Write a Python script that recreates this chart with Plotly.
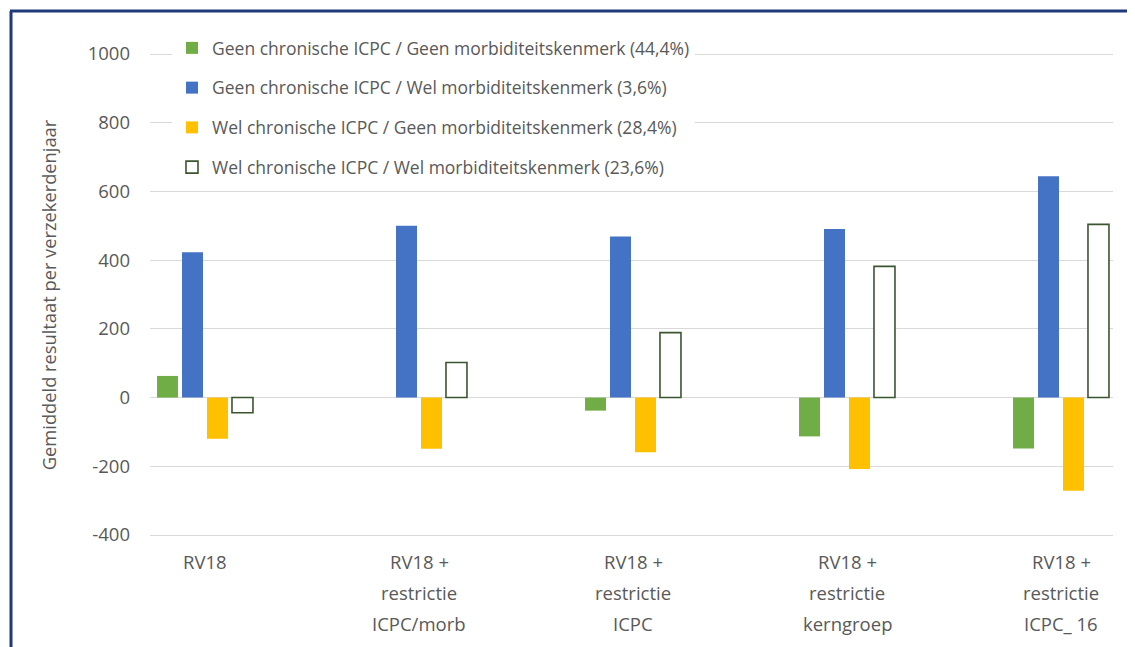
import plotly.graph_objects as go

categories = [
    "RV18",
    "RV18 +<br>restrictie<br>ICPC/morb",
    "RV18 +<br>restrictie<br>ICPC",
    "RV18 +<br>restrictie<br>kerngroep",
    "RV18 +<br>restrictie<br>ICPC_ 16",
]
series_names = [
    "Geen chronische ICPC / Geen morbiditeitskenmerk (44,4%)",
    "Geen chronische ICPC / Wel morbiditeitskenmerk (3,6%)",
    "Wel chronische ICPC / Geen morbiditeitskenmerk (28,4%)",
    "Wel chronische ICPC / Wel morbiditeitskenmerk (23,6%)",
]
geen_geen = [63, 0, -38, -113, -148]
geen_wel = [423, 500, 469, 491, 644]
wel_geen = [-120, -149, -159, -208, -271]
wel_wel = [-44, 102, 189, 382, 504]
y_ticks = [-400, -200, 0, 200, 400, 600, 800, 1000]

series_values = [geen_geen, geen_wel, wel_geen, wel_wel]
fills = ["#70AD47", "#4472C4", "#FFC000", "#FFFFFF"]
outlines = ["#70AD47", "#4472C4", "#FFC000", "#3B5530"]
outline_w = [0, 0, 0, 1.6]

OFF = 8  # page body margin
W, H = 1135 - OFF, 647 - OFF


def px(v):
    return v - OFF


L, R = px(150), px(1113)
T, B = px(51), px(539)

fig = go.Figure()
for i, (name, vals) in enumerate(zip(series_names, series_values)):
    fig.add_trace(go.Bar(
        x=list(range(len(categories))), y=vals, name=name,
        marker=dict(color=fills[i], line=dict(color=outlines[i], width=outline_w[i])),
        legendgroup=f"g{i}",
    ))

ky = (535 - 54) / 1400.0
y_top = 1000 + (px(54) - T) / ky
y_bot = -400 - (B - px(535)) / ky
kx = (1061 - 205) / 4.0
x0 = -(px(205) - L) / kx
x1 = 4 + (R - px(1061)) / kx

grid = "#D9D9D9"
txt = "#595959"
font = "Open Sans"
frame = "#1F3A78"

# category labels: one text line per row, rows 31 px apart (as in the reference)
annotations = []
for ci, lab in enumerate(categories):
    for j, line in enumerate(lab.split("<br>")):
        ypix = px(561 + 31 * j)
        annotations.append(dict(
            x=ci, xref="x", y=(B - ypix) / (B - T), yref="paper",
            text=line, showarrow=False, xanchor="center", yanchor="middle",
            font=dict(family=font, size=18.5, color=txt),
        ))

fig.update_layout(
    width=W, height=H,
    margin=dict(l=L, r=W - R, t=T, b=H - B, autoexpand=False),
    paper_bgcolor="white", plot_bgcolor="white",
    barmode="group", bargap=0.533, bargroupgap=0.16,
    font=dict(family=font, color=txt, size=17),
    showlegend=True,
    legend=dict(
        x=(px(172) - L) / (R - L), y=(B - px(30)) / (B - T), xanchor="left", yanchor="top",
        bgcolor="white", borderwidth=0, tracegroupgap=14,
        font=dict(family=font, size=17.5, color=txt), itemwidth=30,
    ),
    xaxis=dict(
        range=[x0, x1], tickmode="array",
        tickvals=list(range(len(categories))), ticktext=categories,
        showticklabels=False,
        showgrid=False, zeroline=False, showline=False, ticks="",
    ),
    yaxis=dict(
        range=[y_bot, y_top], tickmode="array", tickvals=y_ticks,
        ticktext=[str(v) for v in y_ticks],
        showgrid=True, gridcolor=grid, gridwidth=1,
        zeroline=True, zerolinecolor=grid, zerolinewidth=1,
        showline=False, ticks="", ticklabelstandoff=19,
        tickfont=dict(family=font, size=18.5, color=txt),
        title=dict(text="Gemiddeld resultaat per verzekerdenjaar",
                   font=dict(family=font, size=18.3, color=txt), standoff=26),
    ),
    annotations=annotations,
    shapes=[
        dict(type="line", xref="paper", yref="paper",
             x0=(px(11) - L) / (R - L), x1=(px(11) - L) / (R - L),
             y0=(B - px(11)) / (B - T), y1=(B - H - 5) / (B - T),
             line=dict(color=frame, width=3)),
        dict(type="line", xref="paper", yref="paper",
             x0=(px(10) - L) / (R - L), x1=(W + 5 - L) / (R - L),
             y0=(B - px(11)) / (B - T), y1=(B - px(11)) / (B - T),
             line=dict(color=frame, width=3)),
    ],
)

fig.write_html("out.html")
